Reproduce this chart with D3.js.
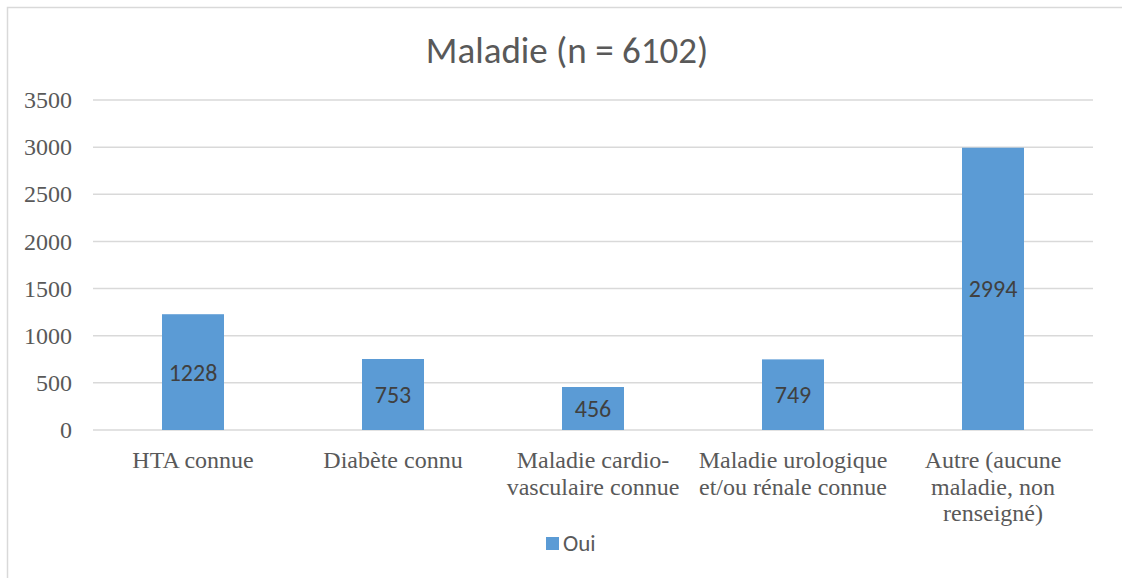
<!DOCTYPE html>
<html>
<head>
<meta charset="utf-8">
<script src="https://cdn.jsdelivr.net/npm/d3@7"></script>
<style>
  body { margin: 0; background: #fff; }
  svg { display: block; }
</style>
</head>
<body>
<svg width="1122" height="578"></svg>
<script>
var categories = [
  ["HTA connue"],
  ["Diabète connu"],
  ["Maladie cardio-", "vasculaire connue"],
  ["Maladie urologique", "et/ou rénale connue"],
  ["Autre (aucune", "maladie, non", "renseigné)"]
];
var values = [1228, 753, 456, 749, 2994];
var yTicks = [0, 500, 1000, 1500, 2000, 2500, 3000, 3500];
var seriesName = "Oui";
var title = "Maladie (n = 6102)";

var svg = d3.select("svg");
var margin = {left: 93, right: 1093, top: 100, bottom: 430};
var serif = "'Liberation Serif', 'Times New Roman', serif";
var sans = "Carlito, Calibri, 'Open Sans', 'Liberation Sans', sans-serif";

// chart border
svg.append("rect")
   .attr("x", 7.5).attr("y", 7.5)
   .attr("width", 1130).attr("height", 600)
   .attr("fill", "none")
   .attr("stroke", "#d9d9d9")
   .attr("stroke-width", 1.5);

var x = d3.scaleBand()
    .domain(d3.range(categories.length))
    .range([margin.left, margin.right])
    .paddingInner(0.69).paddingOuter(0.345);

var y = d3.scaleLinear()
    .domain([0, 3500])
    .range([margin.bottom, margin.top]);

// gridlines
svg.append("g")
   .selectAll("line")
   .data(yTicks)
   .enter().append("line")
   .attr("x1", margin.left).attr("x2", margin.right)
   .attr("y1", d => y(d)).attr("y2", d => y(d))
   .attr("stroke", "#d9d9d9")
   .attr("stroke-width", 1.5);

// y axis labels
var yAxis = d3.axisLeft(y).tickValues(yTicks).tickSize(0).tickPadding(21)
    .tickFormat(d3.format("d"));
svg.append("g")
   .attr("transform", "translate(" + margin.left + ",0)")
   .call(yAxis)
   .call(g => g.select(".domain").remove())
   .selectAll("text")
   .attr("font-family", serif)
   .attr("font-size", 24)
   .attr("fill", "#595959");

// bars
svg.append("g")
   .selectAll("rect")
   .data(values)
   .enter().append("rect")
   .attr("x", (d, i) => x(i))
   .attr("width", x.bandwidth())
   .attr("y", d => y(d))
   .attr("height", d => y(0) - y(d))
   .attr("fill", "#5b9bd5");

// data labels
svg.append("g")
   .selectAll("text")
   .data(values)
   .enter().append("text")
   .attr("x", (d, i) => x(i) + x.bandwidth() / 2)
   .attr("y", d => (y(d) + y(0)) / 2)
   .attr("dy", "0.35em")
   .attr("text-anchor", "middle")
   .attr("font-family", sans)
   .attr("font-size", 24)
   .attr("fill", "#404040")
   .text(d => d);

// category labels
var cat = svg.append("g")
   .selectAll("text")
   .data(categories)
   .enter().append("text")
   .attr("text-anchor", "middle")
   .attr("font-family", serif)
   .attr("font-size", 24)
   .attr("fill", "#595959")
   .attr("transform", (d, i) => "translate(" + (x(i) + x.bandwidth() / 2) + ",468)");
cat.selectAll("tspan")
   .data(d => d)
   .enter().append("tspan")
   .attr("x", 0)
   .attr("y", (d, i) => i * 26.5)
   .text(d => d);

// title
svg.append("text")
   .attr("x", 567).attr("y", 63)
   .attr("text-anchor", "middle")
   .attr("font-family", sans)
   .attr("font-size", 37)
   .attr("fill", "#595959")
   .text(title);

// legend
svg.append("rect")
   .attr("x", 546).attr("y", 537)
   .attr("width", 13).attr("height", 13)
   .attr("fill", "#5b9bd5");
svg.append("text")
   .attr("x", 563).attr("y", 551)
   .attr("font-family", sans)
   .attr("font-size", 23)
   .attr("fill", "#595959")
   .text(seriesName);
</script>
</body>
</html>
